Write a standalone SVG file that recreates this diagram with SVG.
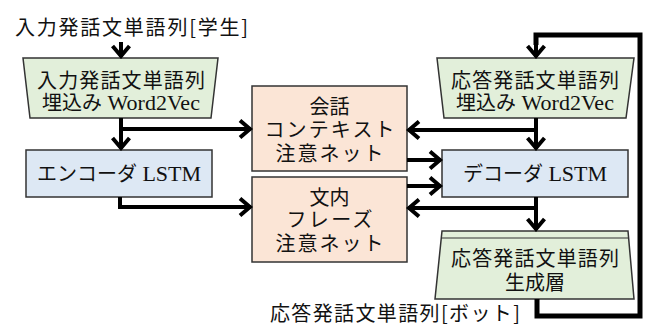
<svg xmlns="http://www.w3.org/2000/svg" width="647" height="327" viewBox="0 0 647 327">
<style>
.jp{font-family:"Noto Sans CJK JP","Noto Sans CJK SC",sans-serif;font-size:20px;fill:#111}
tspan.en{font-family:"Liberation Serif","Times New Roman",serif;font-size:22px}
.c{text-anchor:middle}
.green{fill:#e2efda;stroke:#333;stroke-width:1.5}
.blue{fill:#dde8f4;stroke:#333;stroke-width:1.5}
.peach{fill:#fbe5d6;stroke:#333;stroke-width:1.5}
.ln{fill:none;stroke:#000;stroke-width:4}
.loop{fill:none;stroke:#000;stroke-width:5}
</style>
<defs>
<marker id="ah" markerUnits="userSpaceOnUse" markerWidth="20" markerHeight="20" viewBox="0 0 20 20" refX="18" refY="10" orient="auto">
<path d="M7,1.5 L17,10 L7,18.5" fill="none" stroke="#000" stroke-width="4"/>
</marker>
</defs>
<g id="title-in"><text class="jp" x="15" y="35" textLength="233" lengthAdjust="spacing">入力発話文単語列[学生]</text></g>
<g id="title-out"><text class="jp" x="270" y="321" textLength="250" lengthAdjust="spacing">応答発話文単語列[ボット]</text></g>
<g id="embed-in">
<polygon class="green" points="23,58 218,58 211,118 30,118"/>
<text class="jp c" x="121" y="88" textLength="168" lengthAdjust="spacing">入力発話文単語列</text>
<text class="jp c" x="121" y="110">埋込み<tspan class="en" style="font-family:'Liberation Serif',serif"> Word2Vec</tspan></text>
</g>
<g id="encoder">
<rect class="blue" x="26" y="150" width="186" height="47"/>
<text class="jp c" x="119" y="181">エンコーダ<tspan class="en" style="font-family:'Liberation Serif',serif"> LSTM</tspan></text>
</g>
<g id="context">
<rect class="peach" x="252" y="86" width="155" height="85"/>
<text class="jp c" x="329.5" y="114">会話</text>
<text class="jp c" x="329.5" y="137" textLength="130" lengthAdjust="spacing">コンテキスト</text>
<text class="jp c" x="329.5" y="161" textLength="108" lengthAdjust="spacing">注意ネット</text>
</g>
<g id="phrase">
<rect class="peach" x="252" y="177" width="155" height="85"/>
<text class="jp c" x="329.5" y="205">文内</text>
<text class="jp c" x="329.5" y="227" textLength="86" lengthAdjust="spacing">フレーズ</text>
<text class="jp c" x="329.5" y="251" textLength="108" lengthAdjust="spacing">注意ネット</text>
</g>
<g id="embed-out">
<polygon class="green" points="437,58 634,58 626,118 444,118"/>
<text class="jp c" x="535" y="88" textLength="168" lengthAdjust="spacing">応答発話文単語列</text>
<text class="jp c" x="535" y="110">埋込み<tspan class="en" style="font-family:'Liberation Serif',serif"> Word2Vec</tspan></text>
</g>
<g id="decoder">
<rect class="blue" x="442" y="150" width="186" height="47"/>
<text class="jp c" x="535" y="181">デコーダ<tspan class="en" style="font-family:'Liberation Serif',serif"> LSTM</tspan></text>
</g>
<g id="generator">
<polygon class="green" points="442,231 628,231 634,299 435,299"/>
<line x1="441.4" y1="238" x2="628.6" y2="238" stroke="#333" stroke-width="1.2"/>
<text class="jp c" x="535" y="266" textLength="168" lengthAdjust="spacing">応答発話文単語列</text>
<text class="jp c" x="535" y="290">生成層</text>
</g>
<g id="connectors">
<path class="ln" d="M121,42 V57" marker-end="url(#ah)"/>
<path class="ln" d="M121,118 V149" marker-end="url(#ah)"/>
<path class="ln" d="M121,129 H251" marker-end="url(#ah)"/>
<path class="ln" d="M120,197 V207 H251" marker-end="url(#ah)"/>
<path class="ln" d="M536,118 V149" marker-end="url(#ah)"/>
<path class="ln" d="M536,130 H408" marker-end="url(#ah)"/>
<path class="ln" d="M407,160 H441" marker-end="url(#ah)"/>
<path class="ln" d="M407,186 H441" marker-end="url(#ah)"/>
<path class="ln" d="M536,197 V230" marker-end="url(#ah)"/>
<path class="ln" d="M536,208 H408" marker-end="url(#ah)"/>
<path class="loop" d="M537,299 V316 H640 V35 H536 V45"/>
<path class="ln" d="M536,44 V57" marker-end="url(#ah)"/>
</g>
</svg>
